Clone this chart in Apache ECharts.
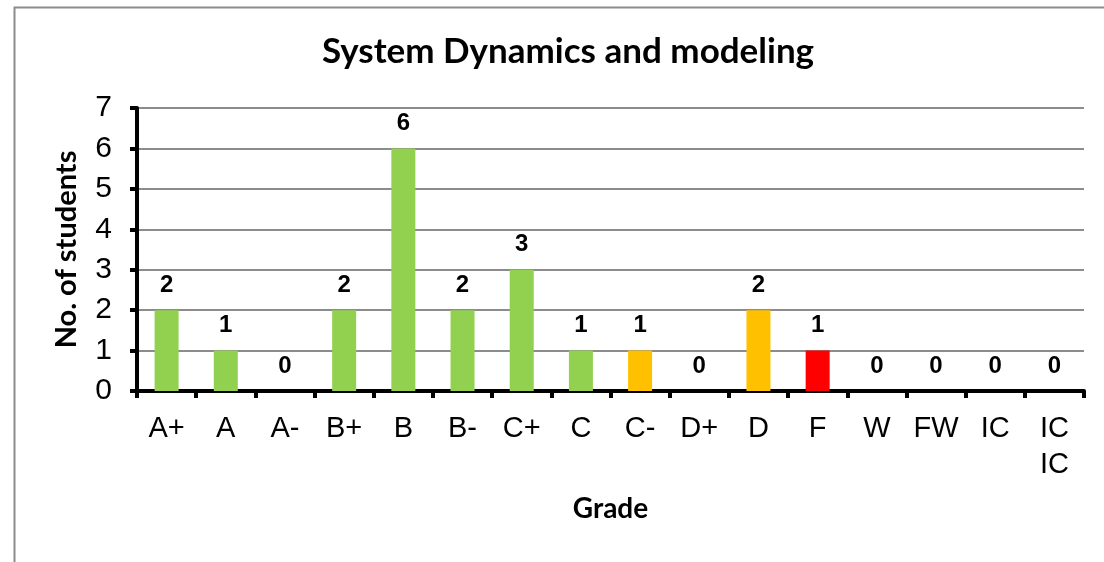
<!DOCTYPE html>
<html>
<head>
<meta charset="utf-8">
<script src="https://cdn.jsdelivr.net/npm/echarts@6/dist/echarts.min.js"></script>
<style>
  html, body { margin: 0; padding: 0; background: #fff; }
  #chart { width: 1104px; height: 562px; }
</style>
</head>
<body>
<div id="chart"></div>
<script>
// grades and counts
var grades = ["A+", "A", "A-", "B+", "B", "B-", "C+", "C", "C-", "D+", "D", "F", "W", "FW", "IC", "IC IC"];
var students = [2, 1, 0, 2, 6, 2, 3, 1, 1, 0, 2, 1, 0, 0, 0, 0];
var yTicks = [0, 1, 2, 3, 4, 5, 6, 7];

// colour bands
var green = '#92D050', orange = '#FFC000', red = '#FF0000';
function barColor(g) {
  if (g == 'C-' || g == 'D+' || g == 'D') return orange;
  if (g == 'F') return red;
  return green;
}

var myChart = echarts.init(document.getElementById('chart'));
var option = {
  backgroundColor: '#fff',
  animation: false,
  graphic: [{
    type: 'rect',
    left: 12, top: 5,
    shape: { width: 1200, height: 700 },
    style: { fill: 'none', stroke: '#8c8c8c', lineWidth: 2 },
    silent: true
  }],
  title: {
    text: 'System Dynamics and modeling',
    left: 563, top: 29,
    textAlign: 'center',
    textStyle: { fontFamily: 'Lato', fontWeight: 'bold', fontSize: 35, color: '#000' }
  },
  grid: { left: 137, right: 20, top: 108, bottom: 171, containLabel: false },
  xAxis: {
    type: 'category',
    data: grades,
    name: 'Grade',
    nameLocation: 'middle',
    nameGap: 104,
    nameTextStyle: { fontFamily: 'Lato', fontWeight: 'bold', fontSize: 28, color: '#000', verticalAlign: 'top' },
    axisLine: { lineStyle: { color: '#000', width: 4 } },
    axisTick: { show: true, length: 7, lineStyle: { color: '#000', width: 4 } },
    axisLabel: {
      color: '#000', fontFamily: 'Liberation Sans', fontSize: 29, margin: 20, interval: 0,
      lineHeight: 36,
      formatter: function (v) { return v.replace(' ', '\n'); }
    }
  },
  yAxis: {
    type: 'value',
    min: yTicks[0], max: yTicks[yTicks.length - 1], interval: 1,
    name: 'No. of students',
    nameLocation: 'middle',
    nameGap: 56,
    nameRotate: 90,
    nameTextStyle: { fontFamily: 'Lato', fontWeight: 'bold', fontSize: 29, color: '#000' },
    axisLine: { show: true, lineStyle: { color: '#000', width: 4 } },
    axisTick: { show: true, length: 7, lineStyle: { color: '#000', width: 4 } },
    axisLabel: { color: '#000', fontFamily: 'Liberation Sans', fontSize: 30, margin: 25 },
    splitLine: { show: true, lineStyle: { color: '#8c8c8c', width: 2 } }
  },
  series: [{
    type: 'bar',
    barWidth: 24,
    data: students.map(function (v, i) {
      return { value: v, itemStyle: { color: barColor(grades[i]) } };
    }),
    label: {
      show: true, position: 'top', distance: 13,
      color: '#000', fontFamily: 'Liberation Sans', fontWeight: 'bold', fontSize: 24
    }
  }]
};
myChart.setOption(option);
</script>
</body>
</html>
